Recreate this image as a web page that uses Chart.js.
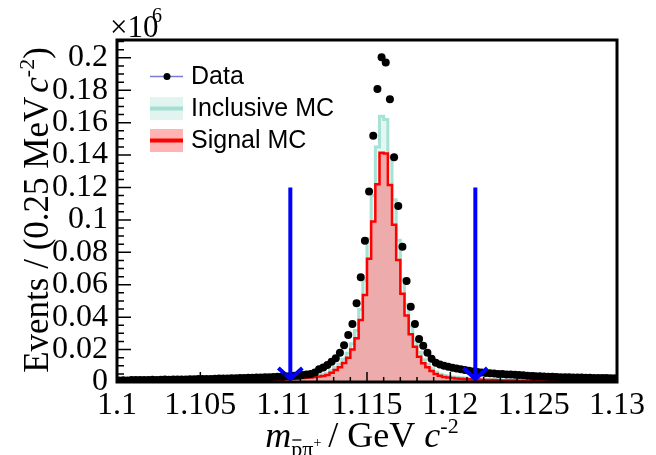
<!DOCTYPE html>
<html>
<head>
<meta charset="utf-8">
<script src="https://cdn.jsdelivr.net/npm/chart.js@4.4.1/dist/chart.umd.min.js"></script>
<style>
  html, body { margin: 0; padding: 0; background: #fff; }
</style>
</head>
<body>
<canvas id="grafico" width="656" height="455"></canvas>
<script>
// histogram binning (GeV), 0.25 MeV per bin
const binLo = 1.1;
const binHi = 1.13;
const nBins = 120;

// events per bin, in units of 10^6
const dataEvents = [
  0.0010, 0.0011, 0.0010, 0.0012, 0.0012, 0.0013, 0.0012, 0.0013, 0.0014, 0.0013,
  0.0014, 0.0015, 0.0014, 0.0015, 0.0016, 0.0015, 0.0016, 0.0017, 0.0017, 0.0018,
  0.0018, 0.0019, 0.0019, 0.0020, 0.0021, 0.0021, 0.0022, 0.0023, 0.0023, 0.0024,
  0.0025, 0.0026, 0.0026, 0.0027, 0.0028, 0.0029, 0.0030, 0.0031, 0.0032, 0.0033,
  0.0035, 0.0036, 0.0038, 0.0040, 0.0043, 0.0046, 0.0050, 0.0058, 0.0078, 0.0090,
  0.0105, 0.0125, 0.0146, 0.0180, 0.0226, 0.0290, 0.0358, 0.0486, 0.0646, 0.0872,
  0.1175, 0.1520, 0.1807, 0.2004, 0.1971, 0.1745, 0.1387, 0.1086, 0.0835, 0.0623,
  0.0465, 0.0358, 0.0265, 0.0224, 0.0180, 0.0143, 0.0119, 0.0108, 0.0100, 0.0094,
  0.0088, 0.0083, 0.0078, 0.0074, 0.0069, 0.0065, 0.0062, 0.0059, 0.0056, 0.0054,
  0.0052, 0.0050, 0.0049, 0.0047, 0.0046, 0.0044, 0.0043, 0.0041, 0.0039, 0.0037,
  0.0036, 0.0035, 0.0034, 0.0033, 0.0032, 0.0031, 0.0030, 0.0029, 0.0029, 0.0028,
  0.0027, 0.0027, 0.0026, 0.0026, 0.0025, 0.0025, 0.0024, 0.0024, 0.0023, 0.0023
];

const inclusiveMC = [
  0.0009, 0.0007, 0.0005, 0.0004, 0.0004, 0.0004, 0.0004, 0.0004, 0.0004, 0.0004,
  0.0004, 0.0004, 0.0005, 0.0005, 0.0005, 0.0005, 0.0005, 0.0005, 0.0006, 0.0006,
  0.0006, 0.0007, 0.0007, 0.0007, 0.0008, 0.0008, 0.0009, 0.0009, 0.0010, 0.0010,
  0.0011, 0.0012, 0.0012, 0.0013, 0.0014, 0.0015, 0.0016, 0.0017, 0.0018, 0.0019,
  0.0021, 0.0022, 0.0024, 0.0026, 0.0029, 0.0031, 0.0034, 0.0037, 0.0041, 0.0046,
  0.0054, 0.0070, 0.0090, 0.0110, 0.0140, 0.0178, 0.0236, 0.0318, 0.0448, 0.0628,
  0.0885, 0.1150, 0.1450, 0.1640, 0.1620, 0.1390, 0.1125, 0.0875, 0.0635, 0.0478,
  0.0345, 0.0255, 0.0184, 0.0137, 0.0108, 0.0082, 0.0062, 0.0048, 0.0040, 0.0035,
  0.0031, 0.0029, 0.0026, 0.0024, 0.0022, 0.0021, 0.0019, 0.0018, 0.0017, 0.0016,
  0.0015, 0.0014, 0.0013, 0.0013, 0.0012, 0.0012, 0.0011, 0.0011, 0.0010, 0.0010,
  0.0009, 0.0009, 0.0008, 0.0008, 0.0008, 0.0007, 0.0007, 0.0007, 0.0006, 0.0006,
  0.0006, 0.0006, 0.0005, 0.0005, 0.0005, 0.0005, 0.0005, 0.0004, 0.0004, 0.0004
];

const signalMC = [
  0.0008, 0.0006, 0.0004, 0.0003, 0.0003, 0.0003, 0.0003, 0.0003, 0.0003, 0.0003,
  0.0003, 0.0003, 0.0003, 0.0004, 0.0004, 0.0004, 0.0004, 0.0004, 0.0004, 0.0005,
  0.0005, 0.0005, 0.0005, 0.0006, 0.0006, 0.0006, 0.0007, 0.0007, 0.0008, 0.0008,
  0.0009, 0.0009, 0.0010, 0.0011, 0.0011, 0.0012, 0.0013, 0.0014, 0.0015, 0.0016,
  0.0017, 0.0018, 0.0020, 0.0022, 0.0024, 0.0026, 0.0028, 0.0031, 0.0034, 0.0037,
  0.0043, 0.0057, 0.0074, 0.0091, 0.0117, 0.0150, 0.0200, 0.0270, 0.0383, 0.0537,
  0.0760, 0.0990, 0.1220, 0.1415, 0.1410, 0.1216, 0.0970, 0.0753, 0.0545, 0.0410,
  0.0295, 0.0218, 0.0156, 0.0115, 0.0091, 0.0068, 0.0050, 0.0038, 0.0031, 0.0027,
  0.0024, 0.0022, 0.0020, 0.0019, 0.0017, 0.0016, 0.0015, 0.0014, 0.0013, 0.0012,
  0.0012, 0.0011, 0.0010, 0.0010, 0.0009, 0.0009, 0.0008, 0.0008, 0.0007, 0.0007,
  0.0007, 0.0006, 0.0006, 0.0006, 0.0005, 0.0005, 0.0005, 0.0005, 0.0004, 0.0004,
  0.0004, 0.0004, 0.0004, 0.0003, 0.0003, 0.0003, 0.0003, 0.0003, 0.0003, 0.0003
];

// tick labels
const xTicks = [1.1, 1.105, 1.11, 1.115, 1.12, 1.125, 1.13];
const yTicks = [0, 0.02, 0.04, 0.06, 0.08, 0.1, 0.12, 0.14, 0.16, 0.18, 0.2];
const yMax = 0.211;

// signal window cuts (blue arrows)
const cutX = [1.1104, 1.1215];
const cutTop = 0.12;

const legendLabels = ["Data", "Inclusive MC", "Signal MC"];

const serif = '"Liberation Serif", "Times New Roman", serif';
const sans = '"Liberation Sans", Arial, sans-serif';

const binW = (binHi - binLo) / nBins;

// histogram outline: one point per left bin edge, plus the closing edge
function histPoints(vals) {
  const pts = vals.map((v, i) => ({ x: binLo + i * binW, y: v }));
  pts.push({ x: binHi, y: vals[vals.length - 1] });
  return pts;
}

const dataPoints = dataEvents.map((v, i) => ({ x: binLo + (i + 0.5) * binW, y: v }));

// draws text made of pieces (sub/superscripts, italics), centred on x
function drawRich(ctx, parts, x, y) {
  let total = 0;
  parts.forEach(p => {
    ctx.font = p.font;
    p.w = ctx.measureText(p.t).width;
    total += p.w + (p.gap || 0);
  });
  let cx = x - total / 2;
  parts.forEach(p => {
    ctx.font = p.font;
    ctx.fillText(p.t, cx, y + (p.dy || 0));
    if (p.bar) {
      ctx.save();
      ctx.lineWidth = 1.3;
      ctx.beginPath();
      ctx.moveTo(cx + 1, y + p.dy - p.bar);
      ctx.lineTo(cx + p.w - 1, y + p.dy - p.bar);
      ctx.stroke();
      ctx.restore();
    }
    cx += p.w + (p.gap || 0);
  });
}

const decorPlugin = {
  id: "decor",
  afterDatasetsDraw(chart) {
    const { ctx, chartArea: a, scales } = chart;
    const xs = scales.x, ys = scales.y;

    // blue arrows
    ctx.save();
    ctx.strokeStyle = "#0000ff";
    ctx.lineWidth = 4;
    cutX.forEach(c => {
      const px = xs.getPixelForValue(c);
      const top = ys.getPixelForValue(cutTop);
      const tip = ys.getPixelForValue(0) - 3;
      ctx.beginPath();
      ctx.moveTo(px, top);
      ctx.lineTo(px, tip);
      ctx.stroke();
      ctx.beginPath();
      ctx.moveTo(px - 12, tip - 11);
      ctx.lineTo(px, tip);
      ctx.lineTo(px + 12, tip - 11);
      ctx.stroke();
    });
    ctx.restore();

    // ticks pointing inwards
    ctx.save();
    ctx.strokeStyle = "#000";
    ctx.lineWidth = 1.5;
    ctx.beginPath();
    for (let k = 0; k <= 30; k++) {
      const px = xs.getPixelForValue(binLo + k * 0.001);
      const len = k % 5 === 0 ? 10 : 5;
      ctx.moveTo(px, a.bottom);
      ctx.lineTo(px, a.bottom - len);
    }
    for (let k = 0; k <= 42; k++) {
      const v = k * 0.005;
      if (v > yMax) break;
      const py = ys.getPixelForValue(v);
      const len = k % 4 === 0 ? 14 : 7;
      ctx.moveTo(a.left, py);
      ctx.lineTo(a.left + len, py);
    }
    ctx.stroke();

    // frame
    ctx.lineWidth = 3;
    ctx.strokeRect(a.left, a.top, a.right - a.left, a.bottom - a.top);
    ctx.restore();
  },
  afterDraw(chart) {
    const { ctx } = chart;
    ctx.save();
    ctx.fillStyle = "#000";
    ctx.strokeStyle = "#000";
    ctx.textBaseline = "alphabetic";

    // x10^6 multiplier
    ctx.font = `31px ${serif}`;
    ctx.fillText("\u00d710", 110, 37);
    ctx.font = `20px ${serif}`;
    ctx.fillText("6", 152, 22);

    // x title
    drawRich(ctx, [
      { t: "m", font: `italic 36px ${serif}` },
      { t: "p", font: `22px ${serif}`, dy: 9, bar: 16 },
      { t: "\u03c0", font: `22px ${serif}`, dy: 9 },
      { t: "+", font: `14px ${serif}`, dy: 0, gap: 7 },
      { t: "/ GeV ", font: `36px ${serif}` },
      { t: "c", font: `italic 36px ${serif}` },
      { t: "-2", font: `22px ${serif}`, dy: -14 }
    ], 362, 447);

    // y title
    ctx.save();
    ctx.translate(48, 210);
    ctx.rotate(-Math.PI / 2);
    drawRich(ctx, [
      { t: "Events / (0.25 MeV", font: `35px ${serif}`, gap: 4 },
      { t: "c", font: `italic 35px ${serif}` },
      { t: "-2", font: `22px ${serif}`, dy: -14 },
      { t: ")", font: `35px ${serif}` }
    ], 0, 0);
    ctx.restore();

    // legend
    ctx.textBaseline = "middle";
    ctx.font = `25px ${sans}`;
    ctx.strokeStyle = "#7b7bd0";
    ctx.lineWidth = 1.5;
    ctx.beginPath();
    ctx.moveTo(150, 76.5);
    ctx.lineTo(183, 76.5);
    ctx.stroke();
    ctx.beginPath();
    ctx.arc(167, 76.5, 3.5, 0, Math.PI * 2);
    ctx.fill();
    ctx.fillText(legendLabels[0], 191, 77);

    ctx.fillStyle = "#e2f4f0";
    ctx.fillRect(150, 97, 33, 23);
    ctx.strokeStyle = "#a3dfd2";
    ctx.lineWidth = 4;
    ctx.beginPath();
    ctx.moveTo(150, 108.5);
    ctx.lineTo(183, 108.5);
    ctx.stroke();
    ctx.fillStyle = "#000";
    ctx.fillText(legendLabels[1], 191, 109);

    ctx.fillStyle = "#ffb3b3";
    ctx.fillRect(150, 129, 33, 23);
    ctx.strokeStyle = "#ff0000";
    ctx.beginPath();
    ctx.moveTo(150, 140.5);
    ctx.lineTo(183, 140.5);
    ctx.stroke();
    ctx.fillStyle = "#000";
    ctx.fillText(legendLabels[2], 191, 141);
    ctx.restore();
  }
};

new Chart(document.getElementById("grafico"), {
  type: "line",
  data: {
    datasets: [
      {
        label: legendLabels[0],
        data: dataPoints,
        showLine: false,
        pointRadius: 4,
        pointBackgroundColor: "#000",
        pointBorderWidth: 0,
        order: 0
      },
      {
        label: legendLabels[2],
        data: histPoints(signalMC),
        stepped: true,
        borderColor: "#ff0000",
        borderWidth: 2.5,
        backgroundColor: "#eeabab",
        fill: "origin",
        pointRadius: 0,
        order: 1
      },
      {
        label: legendLabels[1],
        data: histPoints(inclusiveMC),
        stepped: true,
        borderColor: "#a6e2d6",
        borderWidth: 3,
        backgroundColor: "#e6f6f3",
        fill: "origin",
        pointRadius: 0,
        order: 2
      }
    ]
  },
  options: {
    responsive: false,
    animation: false,
    events: [],
    layout: { padding: { left: 0, right: 39, top: 40, bottom: 0 } },
    plugins: { legend: { display: false }, tooltip: { enabled: false } },
    scales: {
      x: {
        type: "linear",
        min: binLo,
        max: binHi,
        grid: { display: false, drawTicks: false },
        border: { display: false },
        afterFit: s => { s.height = 73; },
        afterBuildTicks: s => { s.ticks = xTicks.map(v => ({ value: v })); },
        ticks: {
          autoSkip: false,
          maxRotation: 0,
          padding: 4,
          color: "#000",
          font: { family: serif, size: 32 },
          callback: v => String(parseFloat(v.toFixed(3)))
        }
      },
      y: {
        min: 0,
        max: yMax,
        grid: { display: false, drawTicks: false },
        border: { display: false },
        afterFit: s => { s.width = 117; },
        afterBuildTicks: s => { s.ticks = yTicks.map(v => ({ value: v })); },
        ticks: {
          autoSkip: false,
          padding: 9,
          color: "#000",
          font: { family: serif, size: 32 },
          callback: v => String(parseFloat(v.toFixed(2)))
        }
      }
    }
  },
  plugins: [decorPlugin]
});
</script>
</body>
</html>
